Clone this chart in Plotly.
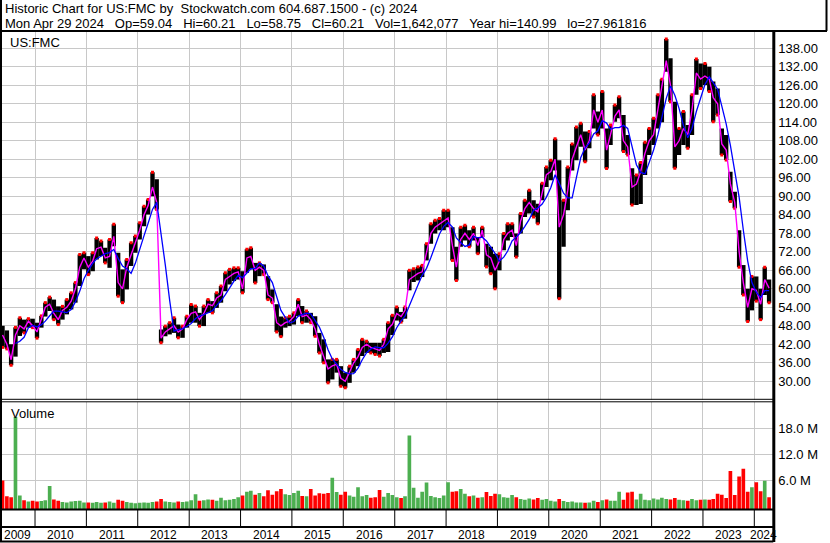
import pandas as pd
import plotly.graph_objects as go

# ---------------- data (monthly) ----------------
MONTHS = pd.date_range("2009-05-01", "2024-04-01", freq="MS") + pd.Timedelta(days=14)

HIGH = [
    48, 46.5, 42, 47.5, 50.6, 50, 50.3, 50.3,                              # 2009 May-Dec
    49, 51.2, 55.5, 57.3, 56.5, 54.3, 54.3, 56.5, 58.7, 62, 71.1, 71.7,   # 2010
    70.6, 71.7, 76.5, 75.5, 73.3, 76, 80.9, 71.7, 66.3, 69.5, 74.9, 77.1, # 2011
    81.4, 86.8, 89, 97.8, 95.5, 46.8, 47.9, 49, 50.6, 48.4, 47.9, 51.1,   # 2012
    54.9, 54.4, 52.2, 54.4, 56.5, 56, 58.7, 60.9, 65.2, 66.3, 66.8, 66.8, # 2013
    65.7, 72.8, 73.3, 68.4, 68.4, 67.9, 64.1, 59.8, 55, 51, 50.6, 51.1,   # 2014
    52.2, 56.5, 54.4, 52.8, 52.2, 51.1, 45.7, 43.6, 37.1, 37.1, 37.1, 34.9, # 2015
    32.8, 34.9, 37.1, 40.3, 43.6, 43, 42.5, 42.5, 42.5, 43.6, 49, 51.4,   # 2016
    54.1, 52.5, 54.1, 66, 66.5, 67.1, 67.6, 74.6, 81.1, 82.2, 82.8, 85.5, # 2017
    85.5, 80, 73.6, 80, 80.6, 79, 80, 76.8, 80, 74.6, 73.6, 71.4,         # 2018
    71.4, 77.9, 81.1, 81.1, 77.9, 84.4, 88.7, 92, 88.7, 87.6, 94.2, 99.5, # 2019
    101.7, 108.7, 101.7, 88.7, 99.5, 107, 112.5, 113.7, 111, 111, 122.9, 117.5, # 2020
    124, 112, 113.1, 119.6, 122.3, 116.4, 109.9, 99.1, 96.9, 101, 107.5, 112,   # 2021
    115.3, 122.9, 128, 141, 134.8, 120.7, 112, 117.5, 113.1, 122.9, 134.5, 133.1, # 2022
    133.1, 132, 127.2, 125, 112, 109.9, 98, 91.5, 79, 67.7, 60, 64,       # 2023
    64, 60, 67, 63,                                                       # 2024 Jan-Apr
]
LOW = [
    41, 40.5, 35.2, 38, 44.7, 45.7, 47.4, 47.4,
    44, 47.4, 51, 52.8, 50, 48.4, 50, 51.7, 53.3, 55.5, 60.9, 66.3,
    64.6, 65.7, 69.5, 70.6, 68.4, 66.8, 73.8, 57.6, 55.5, 59.8, 67.4, 71.7,
    76, 80.3, 84.1, 90, 85.7, 42.5, 44.6, 45.2, 45.7, 44.1, 44.1, 47.4,
    49, 49, 47.9, 47.9, 52.2, 52.2, 53.8, 55.5, 59.2, 61.4, 62.5, 63,
    58.7, 65.2, 66.3, 61.9, 64.1, 64.6, 56.5, 55.5, 46, 44.5, 47.4, 47.9,
    48.4, 51.1, 49, 49, 49, 44.6, 39.2, 36, 29.5, 30.6, 32.8, 28.4,
    27.9, 29.5, 32.8, 34.9, 38.2, 39.2, 39.2, 38.7, 38.2, 39.2, 39.5, 45,
    49.7, 49.2, 50.3, 59.5, 62.2, 62.7, 63.8, 69.2, 74.6, 77.9, 79, 79,
    80, 69.2, 62.7, 73.6, 75.7, 73.6, 75.7, 71.4, 76.8, 67.1, 64.9, 60,
    66, 72.5, 75.7, 76.8, 70.3, 77.9, 83.3, 84.4, 83.3, 81.1, 88.7, 93,
    95.2, 98.4, 56.8, 73.6, 85.5, 98.4, 101.7, 106.1, 101.2, 105.6, 112, 109.9,
    112, 99, 106.6, 114.2, 115.3, 104.5, 103.4, 87.2, 87.2, 87.5, 96.9, 103.4,
    106.6, 112, 114, 130.4, 120.7, 99.1, 103.4, 106.6, 105.6, 109.9, 122.9, 125,
    126.1, 124, 114.2, 116.4, 103.4, 101.8, 88.3, 86.1, 67, 58, 49.4, 53,
    56, 50, 58, 55.5,
]
CLOSE = [
    45, 42, 37, 45, 48, 47, 49.5, 48,
    46, 50, 54, 55, 52, 50, 53, 54, 56, 60, 67, 70,
    67, 69, 73, 73.5, 70, 70.5, 77, 62, 60, 67, 71, 75,
    79, 84, 87, 93, 88, 44, 46, 47, 48, 46, 47, 50,
    52, 52.5, 50, 52, 55, 54.5, 57, 58, 63, 64, 65, 65.5,
    60, 70, 70.5, 66, 67, 66, 58, 57, 49, 48, 49, 49.5,
    51, 55, 51, 51.5, 50, 47, 42, 38, 34, 35, 35.5, 31,
    30, 33, 36, 38, 41, 42, 41, 40.5, 40, 42, 47, 48.5,
    52, 51, 53, 63, 64, 65, 65.5, 72, 78, 80, 81, 82,
    83, 74, 67, 76, 78, 76, 78, 74, 79, 71, 70, 66,
    69, 76, 78, 79, 74, 82, 86, 88, 86, 85, 91, 97,
    98, 102, 80, 84, 92, 102, 106, 110, 105, 108, 118, 114,
    118, 105, 110, 116, 118, 108, 106, 93, 94, 98, 104, 108,
    110, 118, 125, 134, 126, 106, 108, 112, 110, 118, 130, 128,
    129, 128, 122, 120, 107, 105, 94, 88, 72, 62, 54, 60,
    59.5, 55, 63, 60.2,
]
VOLUME = [  # millions of shares
    5.9, 2.2, 2.0, 20.6, 2.4, 1.3, 1.0, 1.2,
    1.0, 1.1, 1.3, 4.6, 1.5, 1.2, 0.9, 0.8, 1.0, 1.1, 1.2, 0.8,
    0.8, 0.7, 0.9, 0.7, 0.8, 1.0, 0.7, 1.4, 1.2, 0.9, 0.7, 0.6,
    0.7, 0.8, 0.7, 0.9, 1.0, 1.6, 1.0, 0.9, 0.8, 1.0, 0.9, 1.0,
    1.3, 2.7, 1.2, 1.3, 1.5, 1.4, 1.2, 1.9, 1.3, 1.4, 1.6, 2.0,
    2.4, 3.3, 3.5, 2.6, 3.0, 2.2, 3.6, 2.6, 3.4, 3.9, 2.7, 2.5,
    3.0, 3.5, 2.3, 2.2, 3.9, 2.4, 2.9, 2.8, 3.0, 6.5, 3.2, 2.6,
    3.3, 2.4, 2.1, 4.3, 2.2, 2.5, 1.9, 2.0, 3.7, 2.1, 3.0, 2.5,
    2.0, 1.8, 2.2, 16.3, 4.2, 1.9, 3.3, 5.4, 2.3, 2.0, 1.8, 2.4,
    5.5, 3.3, 3.4, 3.9, 2.8, 2.2, 2.4, 1.9, 2.0, 3.2, 2.3, 2.8,
    2.7, 2.0, 1.9, 2.5, 2.0, 1.6, 1.4, 1.7, 1.5, 1.8, 1.4, 1.6,
    1.2, 1.0, 1.6, 1.1, 0.9, 1.0, 0.8, 0.8, 0.7, 0.8, 1.2, 0.9,
    1.3, 1.5, 1.2, 1.2, 3.3, 1.4, 3.1, 3.3, 1.5, 2.8, 1.4, 1.3,
    1.7, 1.5, 1.9, 1.6, 1.5, 1.8, 1.4, 1.3, 1.2, 1.6, 1.3, 1.4,
    1.5, 1.4, 1.6, 2.8, 2.6, 1.8, 8.1, 2.5, 6.8, 8.6, 3.3, 4.3,
    5.5, 3.4, 5.8, 2.0,
]
PRICE_TICKS = [30, 36, 42, 48, 54, 60, 66, 72, 78, 84, 90, 96, 102, 108, 114, 120, 126, 132, 138]
VOL_TICKS = [6, 12, 18]
VOL_TICK_TEXT = ["6.0 M", "12.0 M", "18.0 M"]
YEARS = list(range(2009, 2025))

HEADER_1 = "Historic Chart for US:FMC by\u00a0 Stockwatch.com 604.687.1500 - (c) 2024"
HEADER_2 = ("Mon Apr 29 2024\u00a0\u00a0 Op=59.04\u00a0\u00a0 Hi=60.21\u00a0\u00a0 Lo=58.75\u00a0\u00a0 "
            "Cl=60.21\u00a0\u00a0 Vol=1,642,077\u00a0\u00a0 Year hi=140.99\u00a0\u00a0 lo=27.961816")

# ---------------- styling ----------------
W, H = 830, 543
FONT = "Liberation Sans, Arial, sans-serif"
RED, GREEN, GRAY = "#ff0000", "#4caf50", "#a0a0a0"
GRID = "#c8c8c8"
X0, X1 = pd.Timestamp("2009-04-27"), pd.Timestamp("2024-05-15")
AXIS_PX = 773.3


def px(x):
    return x / W


def py(y):
    return 1 - y / H


n = len(CLOSE)
assert len(HIGH) == len(LOW) == len(VOLUME) == len(MONTHS) == n

vol_colors = []
for i in range(n):
    if i == 0 or CLOSE[i] < CLOSE[i - 1]:
        vol_colors.append(RED)
    elif CLOSE[i] > CLOSE[i - 1]:
        vol_colors.append(GREEN)
    else:
        vol_colors.append(GRAY)

ma_long = pd.Series(CLOSE).rolling(4).mean()
bar_w = 31 * 86400000
vol_w = 26 * 86400000
speck_y = [LOW[i] if vol_colors[i] == RED else HIGH[i] for i in range(n)]

fig = go.Figure()
fig.add_trace(go.Bar(x=MONTHS, y=[h - l for h, l in zip(HIGH, LOW)], base=LOW, width=bar_w,
                     marker=dict(color="black", line=dict(width=0)), xaxis="x", yaxis="y"))
fig.add_trace(go.Scatter(x=MONTHS, y=speck_y, mode="markers",
                         marker=dict(color=RED, size=3, symbol="square", line=dict(width=0)),
                         xaxis="x", yaxis="y"))
fig.add_trace(go.Scatter(x=MONTHS, y=CLOSE, mode="lines", line=dict(color="#ff00ff", width=1.4),
                         xaxis="x", yaxis="y"))
fig.add_trace(go.Scatter(x=MONTHS, y=ma_long, mode="lines", line=dict(color="#0000ff", width=1.3),
                         xaxis="x", yaxis="y"))

VOL_FLOOR = -0.8
fig.add_trace(go.Bar(x=MONTHS, y=[v - VOL_FLOOR for v in VOLUME], base=VOL_FLOOR, width=vol_w,
                     marker=dict(color=vol_colors, line=dict(width=0)), xaxis="x2", yaxis="y2"))

xcommon = dict(type="date", range=[X0, X1], domain=[0, px(AXIS_PX)], showticklabels=False,
               showgrid=True, gridcolor=GRID, gridwidth=1, tick0="2010-01-01", dtick="M12",
               ticks="", zeroline=False, showline=False)

fig.update_layout(
    width=W, height=H, margin=dict(l=0, r=0, t=0, b=0),
    paper_bgcolor="white", plot_bgcolor="white", showlegend=False,
    font=dict(family=FONT, color="black"),
    xaxis=dict(**xcommon, anchor="y"),
    xaxis2=dict(**xcommon, anchor="y2", matches="x"),
    yaxis=dict(domain=[py(400), py(31.5)], range=[23.93, 143.45], side="right", anchor="x",
               tickvals=PRICE_TICKS, ticktext=[f"{v:.2f}" for v in PRICE_TICKS],
               showgrid=True, gridcolor=GRID, gridwidth=1, ticks="", zeroline=False,
               tickfont=dict(size=13, color="black", family=FONT), ticklabelstandoff=4),
    yaxis2=dict(domain=[py(509.3), py(402)], range=[VOL_FLOOR, 24.1], side="right", anchor="x2",
                tickvals=VOL_TICKS, ticktext=VOL_TICK_TEXT,
                showgrid=True, gridcolor=GRID, gridwidth=1, ticks="", zeroline=False,
                tickfont=dict(size=13, color="black", family=FONT), ticklabelstandoff=4),
)

shapes = []


def hline(y, x0=0, x1=AXIS_PX, w=2):
    shapes.append(dict(type="line", xref="paper", yref="paper", x0=px(x0), x1=px(x1),
                       y0=py(y), y1=py(y), line=dict(color="black", width=w)))


def vline(x, y0, y1, w=2):
    shapes.append(dict(type="line", xref="paper", yref="paper", x0=px(x), x1=px(x),
                       y0=py(y0), y1=py(y1), line=dict(color="black", width=w)))


hline(31, 0, 827, 2)
vline(1, 0, 542, 2)
vline(826.5, 0, 31, 2)
vline(AXIS_PX + 0.5, 31, 542, 3)
hline(399.3, w=1)
hline(401.8, w=1)
hline(509.5, w=2)
hline(527, w=2)
hline(541.5, w=2)
for yr in YEARS[1:]:
    shapes.append(dict(type="line", xref="x", yref="paper", x0=f"{yr}-01-01", x1=f"{yr}-01-01",
                       y0=py(509.5), y1=py(527), line=dict(color="black", width=1)))

annotations = [
    dict(text=HEADER_1, x=px(3), y=py(8.5), xref="paper", yref="paper", xanchor="left",
         yanchor="middle", showarrow=False, font=dict(size=13, family=FONT, color="black")),
    dict(text=HEADER_2, x=px(3), y=py(23), xref="paper", yref="paper", xanchor="left",
         yanchor="middle", showarrow=False, font=dict(size=13, family=FONT, color="black")),
    dict(text="US:FMC", x=px(8), y=py(42.5), xref="paper", yref="paper", xanchor="left",
         yanchor="middle", showarrow=False, font=dict(size=13, family=FONT, color="black")),
    dict(text="Volume", x=px(9), y=py(413.5), xref="paper", yref="paper", xanchor="left",
         yanchor="middle", showarrow=False, font=dict(size=13, family=FONT, color="black")),
]
for yr in YEARS:
    s = max(pd.Timestamp(f"{yr}-01-01"), X0)
    e = min(pd.Timestamp(f"{yr + 1}-01-01"), X1)
    mid = s + (e - s) / 2
    annotations.append(dict(text=str(yr), x=mid, y=py(534.5), xref="x", yref="paper",
                            xanchor="center", yanchor="middle", showarrow=False,
                            font=dict(size=12, family=FONT, color="black")))

fig.update_layout(shapes=shapes, annotations=annotations)
fig.write_html("out.html", config={"displayModeBar": False, "staticPlot": True},
               post_script="document.body.style.margin='0';document.body.style.overflow='hidden';")
